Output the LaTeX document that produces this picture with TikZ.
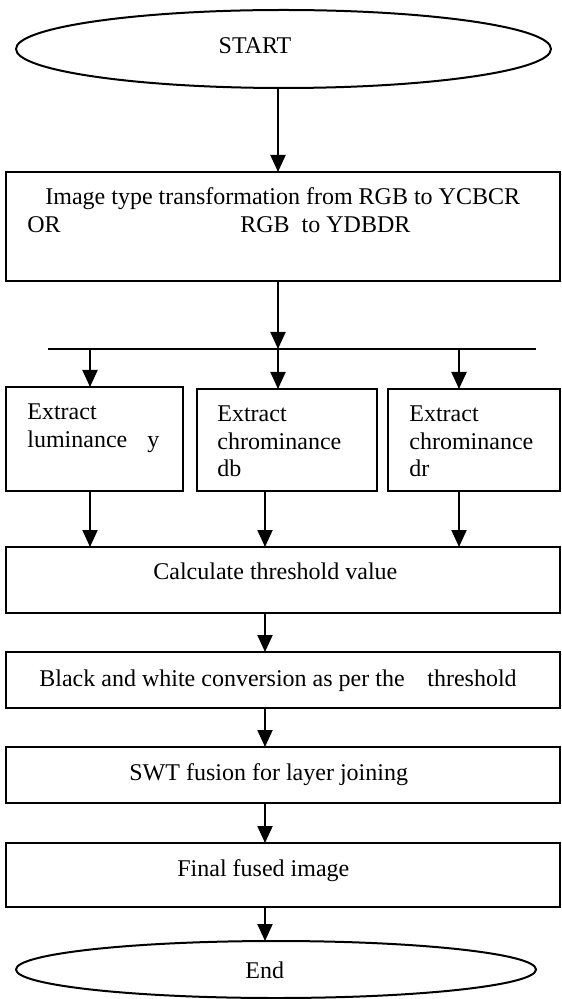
\documentclass[tikz,border=0pt]{standalone}
\usepackage{fontspec}
\setmainfont{Liberation Serif}
\usetikzlibrary{arrows.meta,shapes.geometric}
\begin{document}
\begin{tikzpicture}[x=0.5pt,y=-0.5pt,
  box/.style={draw,line width=1pt,inner sep=0pt,outer sep=0pt},
  oval/.style={draw,ellipse,line width=1pt,inner sep=0pt,outer sep=0pt},
  txt/.style={inner sep=0pt,anchor=base west,font=\fontsize{12}{14}\selectfont},
  arr/.style={line width=1pt,-{Triangle[width=7.5pt,length=8.5pt]}},
  busline/.style={line width=1pt}]
\useasboundingbox (0,0) rectangle (561,999);
% column coordinates
\coordinate (xm) at (278,0);
\coordinate (xa) at (90,0);
\coordinate (xc) at (459,0);
\coordinate (xb) at (265,0);
% shapes
\node[oval,minimum width=267.5pt,minimum height=39pt] (start) at (283.5,49) {};
\node[box,minimum width=277pt,minimum height=54.5pt] (b1) at (283,226.5) {};
\coordinate (busL) at (48,349);
\coordinate (busR) at (536,349);
\node[box,minimum width=88.5pt,minimum height=52pt] (ba) at (94.5,439) {};
\node[box,minimum width=90pt,minimum height=51pt] (bb) at (287,440) {};
\node[box,minimum width=86pt,minimum height=51pt] (bc) at (474,440) {};
\node[box,minimum width=277pt,minimum height=33pt] (calc) at (283,580) {};
\node[box,minimum width=277pt,minimum height=28pt] (bw) at (283,680) {};
\node[box,minimum width=277pt,minimum height=28pt] (swt) at (283,775) {};
\node[box,minimum width=277pt,minimum height=32pt] (fin) at (283,875) {};
\node[oval,minimum width=260pt,minimum height=28.5pt] (end) at (276,969.5) {};
% texts
\node[txt,anchor=base] (tstart) at (255,54) {START};
\node[txt] (t1a) at (45,205) {Image type transformation from RGB to YCBCR};
\node[txt] (t1b) at (27,233) {OR};
\node[txt] (t1c) at (240,233) {RGB\ \ to YDBDR};
\node[txt] (taa) at (27,419) {Extract};
\node[txt] (tab) at (27,447) {luminance};
\node[txt] (tac) at (147,447) {y};
\node[txt] (tba) at (217,422) {Extract};
\node[txt] (tbb) at (217,449) {chrominance};
\node[txt] (tbc) at (217,476) {db};
\node[txt] (tca) at (409,421) {Extract};
\node[txt] (tcb) at (409,449) {chrominance};
\node[txt] (tcc) at (409,476) {dr};
\node[txt] (tcalc) at (153,579) {Calculate threshold value};
\node[txt] (tbw) at (39,686) {Black and white conversion as per the};
\node[txt] (tbw2) at (427,686) {threshold};
\node[txt] (tswt) at (129,780) {SWT fusion for layer joining};
\node[txt] (tfin) at (177,876) {Final fused image};
\node[txt] (tend) at (245,978) {End};
% connectors
\draw[arr] (start.south -| xm) -- (b1.north -| xm);
\draw[arr] (b1.south -| xm) -- (busL -| xm);
\draw[busline] (busL) -- (busR);
\draw[arr] (busL -| xa) -- (ba.north -| xa);
\draw[arr] (busL -| xm) -- (bb.north -| xm);
\draw[arr] (busL -| xc) -- (bc.north -| xc);
\draw[arr] (ba.south -| xa) -- (calc.north -| xa);
\draw[arr] (bb.south -| xb) -- (calc.north -| xb);
\draw[arr] (bc.south -| xc) -- (calc.north -| xc);
\draw[arr] (calc.south -| xb) -- (bw.north -| xb);
\draw[arr] (bw.south -| xb) -- (swt.north -| xb);
\draw[arr] (swt.south -| xb) -- (fin.north -| xb);
\draw[arr] (fin.south -| xb) -- (end.north -| xb);
\end{tikzpicture}
\end{document}
